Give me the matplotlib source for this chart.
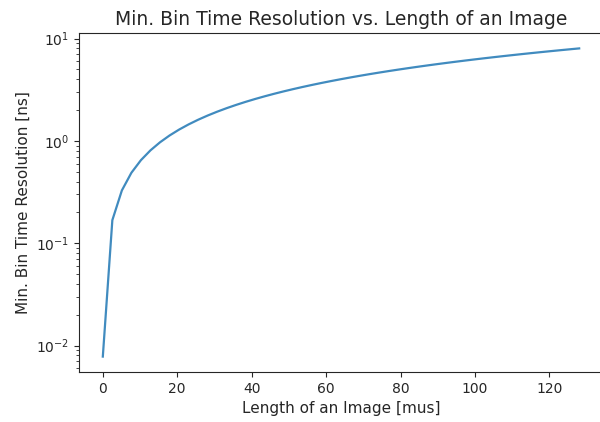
import matplotlib
matplotlib.use('Agg')
import matplotlib.pyplot as plt

# image length [mus] vs. minimum bin time resolution [ns]
image_length = [0, 2.56, 5.12, 7.68, 10.24, 12.8, 15.36, 17.92, 20.48, 23.04,
                25.6, 28.16, 30.72, 33.28, 35.84, 38.4, 40.96, 43.52, 46.08, 48.64,
                51.2, 53.76, 56.32, 58.88, 61.44, 64.0, 66.56, 69.12, 71.68, 74.24,
                76.8, 79.36, 81.92, 84.48, 87.04, 89.6, 92.16, 94.72, 97.28, 99.84,
                102.4, 104.96, 107.52, 110.08, 112.64, 115.2, 117.76, 120.32, 122.88,
                125.44, 128.0]
bin_resolution = [0.0078, 0.168, 0.328, 0.488, 0.648, 0.808, 0.968, 1.128, 1.288, 1.448,
                  1.608, 1.768, 1.928, 2.088, 2.248, 2.408, 2.568, 2.728, 2.888, 3.048,
                  3.208, 3.368, 3.528, 3.688, 3.848, 4.008, 4.168, 4.328, 4.488, 4.648,
                  4.808, 4.968, 5.128, 5.288, 5.448, 5.608, 5.768, 5.928, 6.088, 6.248,
                  6.408, 6.568, 6.728, 6.888, 7.048, 7.208, 7.368, 7.528, 7.688, 7.848,
                  8.008]

plt.rcParams['text.color'] = '#262626'
plt.rcParams['axes.labelcolor'] = '#262626'
plt.rcParams['xtick.color'] = '#262626'
plt.rcParams['ytick.color'] = '#262626'
plt.rcParams['axes.edgecolor'] = '#262626'

fig = plt.figure(figsize=(6.0, 4.22), dpi=100)
ax = fig.add_axes([79 / 600, 50 / 422, 524 / 600, 339 / 422])

ax.plot(image_length, bin_resolution, color='#1f77b4', linewidth=1.6, alpha=0.85)
ax.set_yscale('log')
ax.set_title('Min. Bin Time Resolution vs. Length of an Image', fontsize=13.5)
ax.set_xlabel('Length of an Image [mus]', fontsize=11)
ax.set_ylabel('Min. Bin Time Resolution [ns]', fontsize=11)
ax.tick_params(labelsize=10)

fig.savefig('out.png', dpi=100)
